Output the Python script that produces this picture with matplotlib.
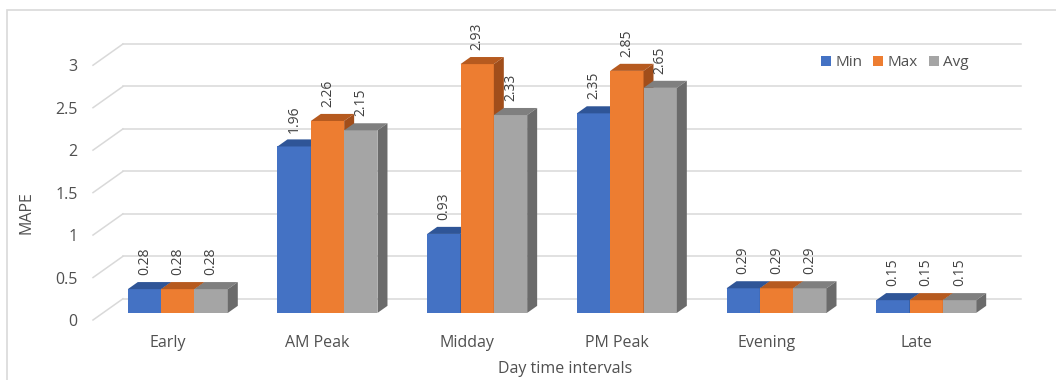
import matplotlib
matplotlib.use("Agg")
import matplotlib.pyplot as plt
from matplotlib.patches import Polygon, Patch, Rectangle

categories = ["Early", "AM Peak", "Midday", "PM Peak", "Evening", "Late"]
series_names = ["Min", "Max", "Avg"]
min_vals = [0.28, 1.96, 0.93, 2.35, 0.29, 0.15]
max_vals = [0.28, 2.26, 2.93, 2.85, 0.29, 0.15]
avg_vals = [0.28, 2.15, 2.33, 2.65, 0.29, 0.15]
yticks = [0, 0.5, 1, 1.5, 2, 2.5, 3]

front_cols = ["#4472C4", "#ED7D31", "#A5A5A5"]
top_cols = ["#2F5597", "#B65A1F", "#7F7F7F"]
side_cols = ["#2B4C87", "#A14E1B", "#6B6B6B"]

plt.rcParams["font.family"] = ["Open Sans", "DejaVu Sans"]

fig = plt.figure(figsize=(10.56, 3.8), dpi=100)
ax = fig.add_axes([93/1056, 60/380, 928/1056, 276/380])
ax.set_xlim(-0.5, 5.7)
ax.set_ylim(0, 3.25)
for s in ax.spines.values():
    s.set_visible(False)

# depth of the pseudo-3d box (back wall offset) and of each bar
DX, DY = 0.2, 0.25
bdx, bdy = DX / 3, DY / 3
grid_c = "#D9D9D9"

for v in yticks:
    ax.plot([-0.5, -0.5 + DX], [v, v + DY], color=grid_c, lw=1.1, zorder=1, clip_on=False)
    ax.plot([-0.5 + DX, 5.5 + DX], [v + DY, v + DY], color=grid_c, lw=1.1, zorder=1, clip_on=False)

w = 0.2227
group = 3 * w
all_vals = [min_vals, max_vals, avg_vals]
for j, vals in enumerate(all_vals):
    xs = [i - group / 2 + j * w + bdx for i in range(len(categories))]
    ax.bar(xs, vals, width=w, bottom=bdy, align="edge", color=front_cols[j],
           zorder=3 + j, label=series_names[j])
    for x0, v in zip(xs, vals):
        top = v + bdy
        ax.add_patch(Polygon([(x0, top), (x0 + w, top), (x0 + w + bdx, top + bdy), (x0 + bdx, top + bdy)],
                             closed=True, facecolor=top_cols[j], edgecolor="none", zorder=3 + j))
        ax.add_patch(Polygon([(x0 + w, bdy), (x0 + w + bdx, 2 * bdy), (x0 + w + bdx, top + bdy), (x0 + w, top)],
                             closed=True, facecolor=side_cols[j], edgecolor="none", zorder=3 + j))
        ax.annotate(f"{v:.2f}", xy=(x0 + w / 2, top), xytext=(0, 10), textcoords="offset points",
                    rotation=90, ha="center", va="bottom", fontsize=10, color="#404040", zorder=10)

ax.set_yticks(yticks)
ax.set_yticklabels(["0", "0.5", "1", "1.5", "2", "2.5", "3"])
ax.set_xticks(range(len(categories)))
ax.set_xticklabels(categories)
ax.tick_params(axis="both", length=0, labelsize=11.5, labelcolor="#505050")
ax.tick_params(axis="y", pad=11)
ax.tick_params(axis="x", pad=11)

fig.text(27/1056, 1 - 213/380, "MAPE", rotation=90, ha="center", va="center", fontsize=11.5, color="#505050")
fig.text(565/1056, 1 - 369/380, "Day time intervals", ha="center", va="center", fontsize=11.5, color="#505050")

handles = [Patch(facecolor=c, edgecolor="none") for c in front_cols]
leg = ax.legend(handles, series_names, ncol=3, frameon=False, loc="center",
                bbox_to_anchor=(895/1056, 1 - 63/380), bbox_transform=fig.transFigure,
                handlelength=0.65, handleheight=0.65, handletextpad=0.3, columnspacing=0.7,
                fontsize=11)
for t in leg.get_texts():
    t.set_color("#505050")

# chart frame
fig.add_artist(Rectangle((7/1056, -0.1), 1.2, 1 - 10/380 + 0.1, transform=fig.transFigure,
                         fill=False, edgecolor="#D9D9D9", lw=1.2))

fig.savefig("out.png", dpi=100)
